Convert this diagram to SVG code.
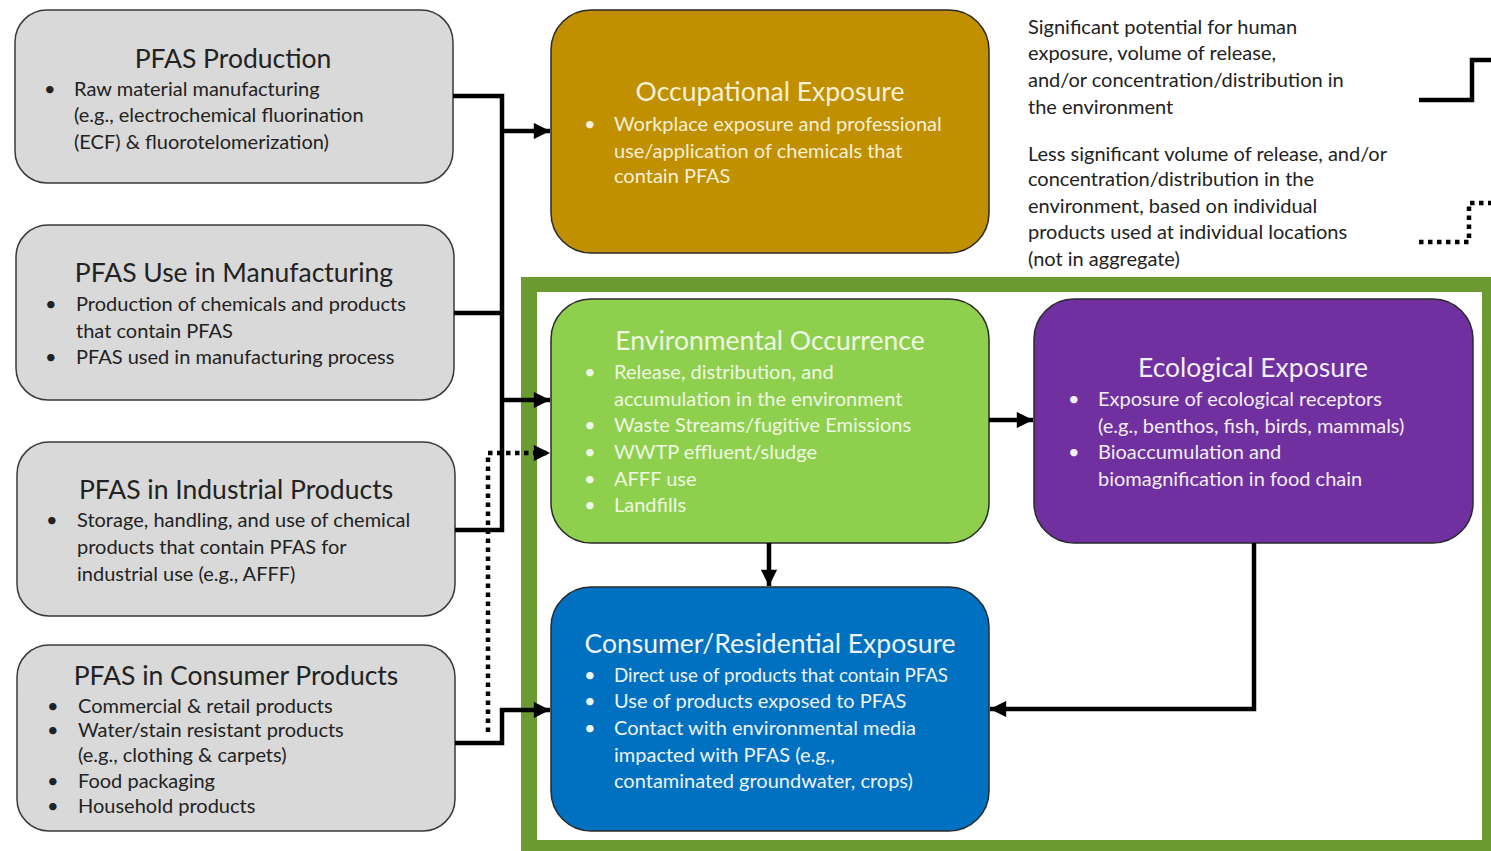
<svg xmlns="http://www.w3.org/2000/svg" width="1491" height="851" viewBox="0 0 1491 851">
  <defs>
    <marker id="arrow" viewBox="0 0 10 10" refX="10" refY="5" markerWidth="4.2" markerHeight="3.6" markerUnits="strokeWidth" orient="auto">
      <path d="M0,0 L10,5 L0,10 z" fill="#000"/>
    </marker>
    <style>
      .src rect { fill: #d9d9d9; stroke: #3a3a3a; stroke-width: 1.5; }
      .node rect { stroke: #2a2a2a; stroke-width: 1.5; }
      text { font-family: Lato, "Open Sans", "Liberation Sans", sans-serif; }
      .ttl { font-size: 26.5px; text-anchor: middle; }
      .txt { font-size: 20px; }
      .dark { fill: #222; }
      .legend { font-size: 20px; fill: #222; }
      .wire { fill: none; stroke: #000; stroke-width: 4.5; }
      .dots { fill: none; stroke: #000; stroke-width: 4.5; stroke-dasharray: 4.5 4.5; }
    </style>
  </defs>

  <rect width="1491" height="851" fill="#fff"/>

  <!-- green frame around the environmental / consumer area -->
  <path d="M521,277 H1491 V851 H521 Z M537,292 V840 H1482 V292 Z" fill="#6a9a30" fill-rule="evenodd"/>

  <!-- source boxes -->
  <g id="pfas-production" class="src">
    <rect x="15" y="10" width="438" height="173" rx="32"/>
    <text class="ttl dark" x="233" y="68">PFAS Production</text>
    <text class="txt dark"><tspan x="44" y="96">•</tspan><tspan x="74" y="96">Raw material manufacturing</tspan><tspan x="74" y="122">(e.g., electrochemical fluorination</tspan><tspan x="74" y="149">(ECF) &amp; fluorotelomerization)</tspan></text>
  </g>

  <g id="pfas-manufacturing" class="src">
    <rect x="16" y="225" width="438" height="175" rx="32"/>
    <text class="ttl dark" x="234" y="282">PFAS Use in Manufacturing</text>
    <text class="txt dark"><tspan x="45" y="311">•</tspan><tspan x="76" y="311">Production of chemicals and products</tspan><tspan x="76" y="338">that contain PFAS</tspan><tspan x="45" y="364">•</tspan><tspan x="76" y="364">PFAS used in manufacturing process</tspan></text>
  </g>

  <g id="pfas-industrial" class="src">
    <rect x="17" y="442" width="438" height="174" rx="32"/>
    <text class="ttl dark" x="236" y="499">PFAS in Industrial Products</text>
    <text class="txt dark"><tspan x="46" y="527">•</tspan><tspan x="77" y="527">Storage, handling, and use of chemical</tspan><tspan x="77" y="554">products that contain PFAS for</tspan><tspan x="77" y="581">industrial use (e.g., AFFF)</tspan></text>
  </g>

  <g id="pfas-consumer" class="src">
    <rect x="17" y="645" width="438" height="186" rx="32"/>
    <text class="ttl dark" x="236" y="685">PFAS in Consumer Products</text>
    <text class="txt dark"><tspan x="47" y="713">•</tspan><tspan x="78" y="713">Commercial &amp; retail products</tspan><tspan x="47" y="737">•</tspan><tspan x="78" y="737">Water/stain resistant products</tspan><tspan x="78" y="762">(e.g., clothing &amp; carpets)</tspan><tspan x="47" y="788">•</tspan><tspan x="78" y="788">Food packaging</tspan><tspan x="47" y="813">•</tspan><tspan x="78" y="813">Household products</tspan></text>
  </g>

  <!-- exposure boxes -->
  <g id="occupational" class="node">
    <rect x="551" y="10" width="438" height="243" rx="40" fill="#c09000"/>
    <text class="ttl" x="770" y="101" fill="#f7efd6">Occupational Exposure</text>
    <text class="txt" fill="#f7efd6"><tspan x="584" y="131">•</tspan><tspan x="614" y="131">Workplace exposure and professional</tspan><tspan x="614" y="158">use/application of chemicals that</tspan><tspan x="614" y="183">contain PFAS</tspan></text>
  </g>

  <g id="environmental" class="node">
    <rect x="551" y="299" width="438" height="244" rx="40" fill="#8fcf4e"/>
    <text class="ttl" x="770" y="350" fill="#eef8e2">Environmental Occurrence</text>
    <text class="txt" fill="#eef8e2"><tspan x="584" y="379">•</tspan><tspan x="614" y="379">Release, distribution, and</tspan><tspan x="614" y="406">accumulation in the environment</tspan><tspan x="584" y="432">•</tspan><tspan x="614" y="432">Waste Streams/fugitive Emissions</tspan><tspan x="584" y="459">•</tspan><tspan x="614" y="459">WWTP effluent/sludge</tspan><tspan x="584" y="486">•</tspan><tspan x="614" y="486">AFFF use</tspan><tspan x="584" y="512">•</tspan><tspan x="614" y="512">Landfills</tspan></text>
  </g>

  <g id="ecological" class="node">
    <rect x="1034" y="299" width="439" height="244" rx="40" fill="#7030a0"/>
    <text class="ttl" x="1253" y="377" fill="#f2eef6">Ecological Exposure</text>
    <text class="txt" fill="#f2eef6"><tspan x="1068" y="406">•</tspan><tspan x="1098" y="406">Exposure of ecological receptors</tspan><tspan x="1098" y="433">(e.g., benthos, fish, birds, mammals)</tspan><tspan x="1068" y="459">•</tspan><tspan x="1098" y="459">Bioaccumulation and</tspan><tspan x="1098" y="486">biomagnification in food chain</tspan></text>
  </g>

  <g id="consumer-residential" class="node">
    <rect x="551" y="587" width="438" height="244" rx="40" fill="#0070c0"/>
    <text class="ttl" x="770" y="653" fill="#eef4fa">Consumer/Residential Exposure</text>
    <text class="txt" fill="#eef4fa"><tspan x="584" y="682">•</tspan><tspan x="614" y="682" textLength="334" lengthAdjust="spacingAndGlyphs">Direct use of products that contain PFAS</tspan><tspan x="584" y="708">•</tspan><tspan x="614" y="708">Use of products exposed to PFAS</tspan><tspan x="584" y="735">•</tspan><tspan x="614" y="735">Contact with environmental media</tspan><tspan x="614" y="762">impacted with PFAS (e.g.,</tspan><tspan x="614" y="788">contaminated groundwater, crops)</tspan></text>
  </g>

  <!-- key -->
  <g id="legend">
    <text class="legend"><tspan x="1028" y="34">Significant potential for human</tspan><tspan x="1028" y="60">exposure, volume of release,</tspan><tspan x="1028" y="87">and/or concentration/distribution in</tspan><tspan x="1028" y="114">the environment</tspan></text>
    <text class="legend"><tspan x="1028" y="161">Less significant volume of release, and/or</tspan><tspan x="1028" y="186">concentration/distribution in the</tspan><tspan x="1028" y="213">environment, based on individual</tspan><tspan x="1028" y="239">products used at individual locations</tspan><tspan x="1028" y="266">(not in aggregate)</tspan></text>
    <path class="wire" d="M1419,100 H1472 V60 H1491"/>
    <path class="dots" d="M1419,242 H1469 V203 H1491"/>
  </g>

  <!-- connectors -->
  <g id="connectors">
    <path class="wire" d="M453,96 H502 V530 H455"/>
    <path class="wire" d="M454,313 H502"/>
    <path class="wire" d="M502,131 H550" marker-end="url(#arrow)"/>
    <path class="wire" d="M502,400 H550" marker-end="url(#arrow)"/>
    <path class="dots" d="M488,732 V453 H550" marker-end="url(#arrow)"/>
    <path class="wire" d="M455,743 H502 V710 H550" marker-end="url(#arrow)"/>
    <path class="wire" d="M989,420 H1033" marker-end="url(#arrow)"/>
    <path class="wire" d="M769,543 V586" marker-end="url(#arrow)"/>
    <path class="wire" d="M1254,543 V709 H990" marker-end="url(#arrow)"/>
  </g>
</svg>
